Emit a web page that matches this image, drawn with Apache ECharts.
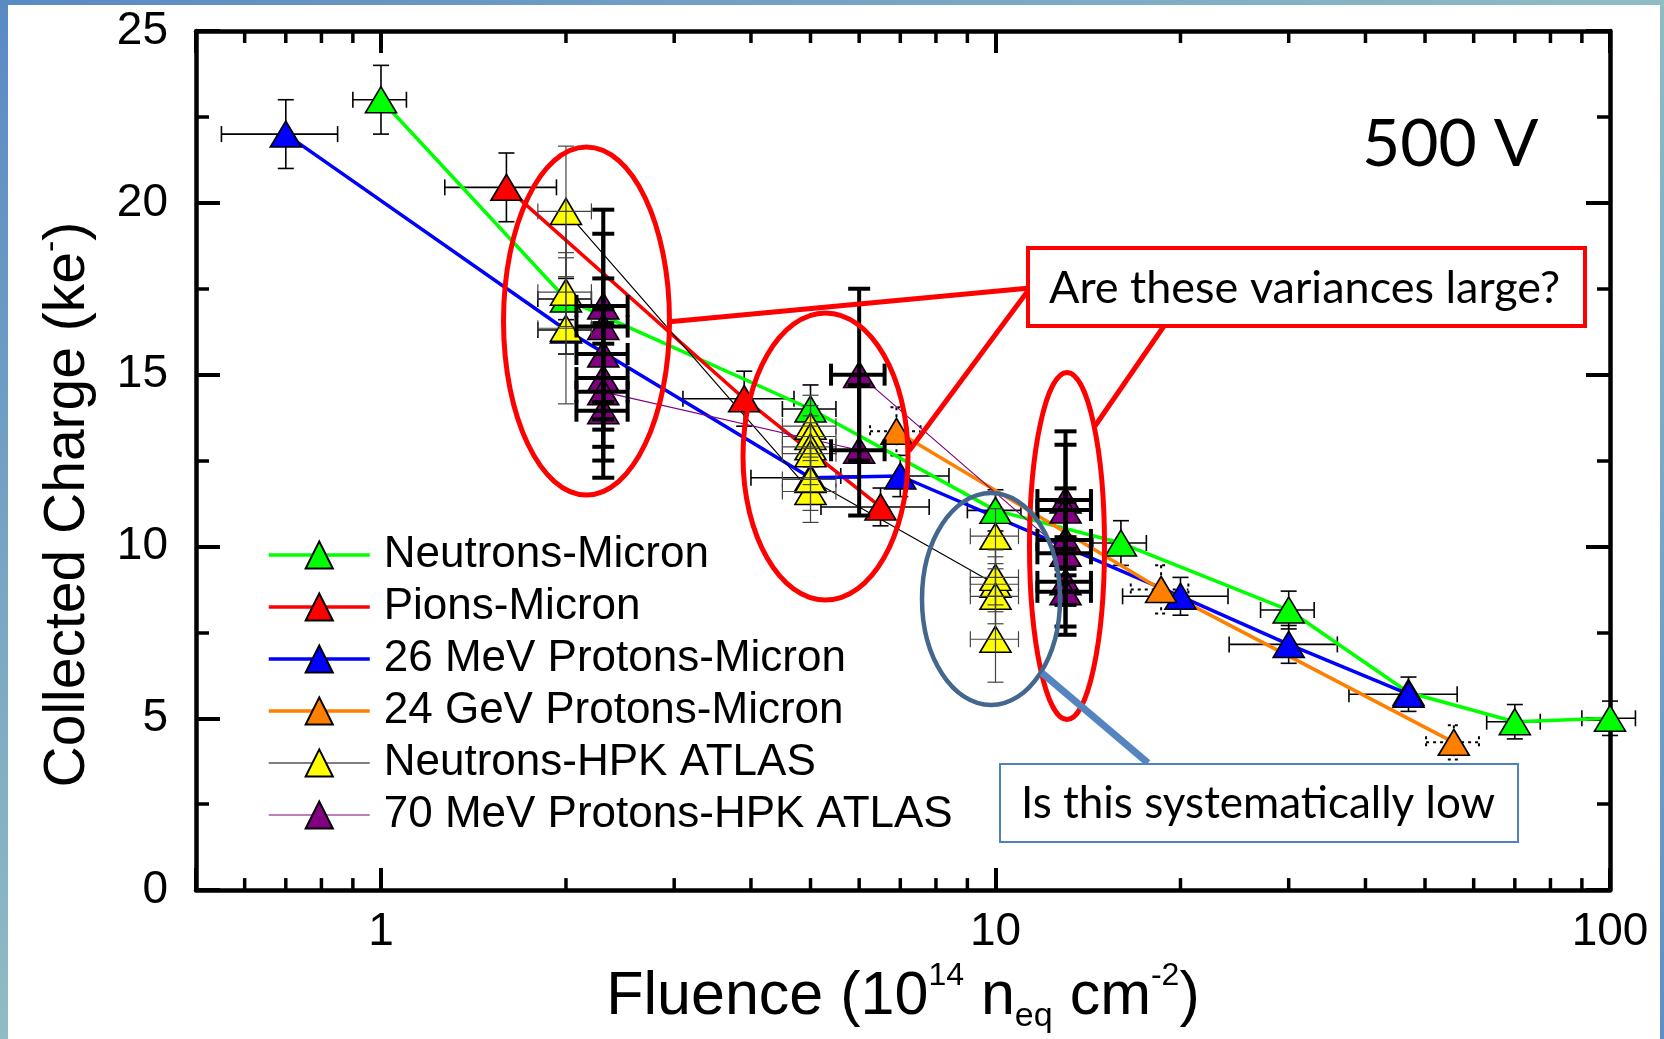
<!DOCTYPE html>
<html>
<head>
<meta charset="utf-8">
<title>Collected Charge vs Fluence, 500 V</title>
<script src="https://cdn.jsdelivr.net/npm/echarts@6.0.0/dist/echarts.min.js"></script>
<style>
  html, body { margin: 0; padding: 0; background: #ffffff; }
  .strip { position: absolute; }
  #stripTop { left: 0; top: 0; width: 1664px; height: 5px; background: linear-gradient(to right, #5a8ac4, #90bcc4); }
  #stripLeft { left: 0; top: 0; width: 8px; height: 1039px; background: linear-gradient(to bottom, #5a8ac4, #90bcc4); }
  #stripRight { left: 1660px; top: 0; width: 4px; height: 1039px; background: linear-gradient(to bottom, #90bcc4, #5f8fc6); }
  #chart { position: absolute; left: 0; top: 0; width: 1664px; height: 1039px; }
</style>
</head>
<body>
<div class="strip" id="stripTop"></div>
<div class="strip" id="stripLeft"></div>
<div class="strip" id="stripRight"></div>
<div id="chart"></div>
<script>
  // values (fluence in 1e14 neq/cm2, charge in ke-)
  const neutronMicronX = [1, 2, 5, 10, 16, 30, 47, 70, 100]
  const neutronMicronY = [23.0, 17.2, 14.0, 11.05, 10.1, 8.15, 5.75, 4.9, 5.0]
  const neutronMicronXErr = [0.1, 0.2, 0.5, 1.0, 1.6, 3, 0, 7, 10]
  const neutronMicronYErr = [1.0, 0.6, 0.7, 0.6, 0.65, 0.55, 0, 0.5, 0.5]

  const pionMicronX = [1.6, 3.9, 6.5]
  const pionMicronY = [20.45, 14.3, 11.15]
  const pionMicronXErr = [0.33, 0.8, 1.3]
  const pionMicronYErr = [1.0, 0.8, 0.55]

  const p26MicronX = [0.7, 2.0, 5.0, 7.0, 20, 30, 47]
  const p26MicronY = [22.0, 16.3, 12.0, 12.05, 8.55, 7.15, 5.7]
  const p26MicronXErr = [0.15, 0.2, 1.0, 1.4, 3.9, 6.0, 9.4]
  const p26MicronYErr = [1.0, 0.7, 0.6, 0.6, 0.55, 0.55, 0.5]

  const p24MicronX = [6.9, 18.6, 55.7]
  const p24MicronY = [13.35, 8.75, 4.3]
  const p24MicronXErr = [0.65, 2.0, 5.5]
  const p24MicronYErr = [0.7, 0.7, 0.5]

  const neutronHpkX = [2, 2, 2, 5, 5, 5, 5, 5, 5, 10, 10, 10, 10, 10]
  const neutronHpkY = [16.35, 17.4, 19.75, 11.6, 13.5, 13.2, 12.9, 12.7, 11.95, 8.9, 10.3, 9.1, 8.55, 7.3]
  const neutronHpkXErr = [0.2, 0.2, 0.2, 0.5, 0.5, 0.5, 0.5, 0.5, 0.5, 0.9, 0.9, 0.9, 0.9, 0.9]
  const neutronHpkYErr = [2.2, 1.0, 1.9, 0.9, 0.9, 0.9, 0.9, 0.9, 0.9, 0.8, 0.8, 0.8, 0.8, 1.25]

  const p70HpkX = [2.3, 2.3, 2.3, 2.3, 2.3, 2.3, 6.0, 6.0, 13, 13, 13, 13, 13, 13]
  const p70HpkY = [17.0, 16.4, 15.6, 14.9, 13.95, 14.5, 12.8, 15.0, 9.8, 11.35, 11.06, 10.19, 8.97, 8.68]
  const p70HpkXErr = [0.22, 0.22, 0.22, 0.22, 0.22, 0.22, 0.6, 0.6, 1.3, 1.3, 1.3, 1.3, 1.3, 1.3]
  const p70HpkYErr = [2.8, 2.7, 2.2, 2.0, 1.95, 2.0, 1.9, 2.5, 1.5, 2.0, 1.9, 1.5, 1.3, 1.25]

  const xMajorLabels = [1, 10, 100]
  const xMinorTicks = [0.6, 0.7, 0.8, 0.9, 2, 3, 4, 5, 6, 7, 8, 9, 20, 30, 40, 50, 60, 70, 80, 90]

  const font = 'Arial, "Liberation Sans", sans-serif'

  const groups = [
    { name: 'Neutrons-Micron', xs: neutronMicronX, ys: neutronMicronY, xe: neutronMicronXErr, ye: neutronMicronYErr,
      fill: '#00ff00', line: '#00ff00', width: 3.5, err: { stroke: '#000', lineWidth: 1.6 }, cap: 8, errZ: 1 },
    { name: 'Pions-Micron', xs: pionMicronX, ys: pionMicronY, xe: pionMicronXErr, ye: pionMicronYErr,
      fill: '#ff0000', line: '#ff0000', width: 3.5, err: { stroke: '#000', lineWidth: 1.6 }, cap: 8, errZ: 1 },
    { name: '26 MeV Protons-Micron', xs: p26MicronX, ys: p26MicronY, xe: p26MicronXErr, ye: p26MicronYErr,
      fill: '#0000ff', line: '#0000ff', width: 3.5, err: { stroke: '#000', lineWidth: 1.6 }, cap: 8, errZ: 1 },
    { name: '24 GeV Protons-Micron', xs: p24MicronX, ys: p24MicronY, xe: p24MicronXErr, ye: p24MicronYErr,
      fill: '#ff8000', line: '#ff8000', width: 3.5, err: { stroke: '#000', lineWidth: 2, lineDash: [3, 4] }, cap: 6, errZ: 1 },
    { name: 'Neutrons-HPK ATLAS', xs: neutronHpkX, ys: neutronHpkY, xe: neutronHpkXErr, ye: neutronHpkYErr,
      fill: '#ffff00', line: '#000000', width: 1.2, err: { stroke: '#444', lineWidth: 1.2 }, cap: 8, errZ: 3 },
    { name: '70 MeV Protons-HPK ATLAS', xs: p70HpkX, ys: p70HpkY, xe: p70HpkXErr, ye: p70HpkYErr,
      fill: '#800080', line: '#800080', width: 1.2, err: { stroke: '#000', lineWidth: 4 }, cap: 11, errZ: 3 },
  ]

  function errorBars(style, cap) {
    return function (params, api) {
      const x = api.value(0), y = api.value(1), xe = api.value(2), ye = api.value(3)
      if (!xe && !ye) return null
      const l = api.coord([x - xe, y]), r = api.coord([x + xe, y])
      const t = api.coord([x, y + ye]), b = api.coord([x, y - ye])
      const segs = [
        [l, r], [t, b],
        [[l[0], l[1] - cap], [l[0], l[1] + cap]], [[r[0], r[1] - cap], [r[0], r[1] + cap]],
        [[t[0] - cap, t[1]], [t[0] + cap, t[1]]], [[b[0] - cap, b[1]], [b[0] + cap, b[1]]],
      ]
      return {
        type: 'group',
        children: segs.map((s) => ({
          type: 'line',
          shape: { x1: s[0][0], y1: s[0][1], x2: s[1][0], y2: s[1][1] },
          style: style,
        })),
      }
    }
  }

  const series = []
  groups.forEach((g) => {
    series.push({
      name: g.name,
      type: 'line',
      data: g.xs.map((x, i) => [x, g.ys[i]]),
      symbol: 'triangle',
      symbolSize: [31, 26],
      itemStyle: { color: g.fill, borderColor: '#000', borderWidth: 1.6 },
      lineStyle: { color: g.line, width: g.width },
      z: 2,
    })
    series.push({
      name: g.name + ' err',
      type: 'custom',
      data: g.xs.map((x, i) => [x, g.ys[i], g.xe[i], g.ye[i]]),
      encode: { x: 0, y: 1 },
      renderItem: errorBars(g.err, g.cap),
      silent: true,
      z: g.errZ,
    })
  })

  // minor ticks of the log axis at 2..9 of each decade, bottom and top
  series.push({
    name: 'minor ticks',
    type: 'custom',
    data: xMinorTicks.map((v) => [v, 0]),
    encode: { x: 0, y: 1 },
    silent: true,
    z: 5,
    renderItem: function (params, api) {
      const v = api.value(0)
      const b = api.coord([v, 0]), t = api.coord([v, 25])
      const st = { stroke: '#000', lineWidth: 3.5 }
      return {
        type: 'group',
        children: [
          { type: 'line', shape: { x1: b[0], y1: b[1], x2: b[0], y2: b[1] - 12 }, style: st },
          { type: 'line', shape: { x1: t[0], y1: t[1], x2: t[0], y2: t[1] + 12 }, style: st },
        ],
      }
    },
  })

  const xAxisBase = {
    type: 'log',
    logBase: 10,
    min: 0.5,
    max: 100,
    axisLine: { onZero: false, lineStyle: { color: '#000', width: 4.5 } },
    axisTick: { inside: true, length: 22, lineStyle: { color: '#000', width: 4 } },
    splitLine: { show: false },
  }
  const yAxisBase = {
    type: 'value',
    min: 0,
    max: 25,
    interval: 5,
    axisLine: { show: true, onZero: false, lineStyle: { color: '#000', width: 4.5 } },
    axisTick: { inside: true, length: 24, lineStyle: { color: '#000', width: 4 } },
    minorTick: { show: true, splitNumber: 2, length: 13, lineStyle: { color: '#000', width: 3.5 } },
    splitLine: { show: false },
  }

  const chart = echarts.init(document.getElementById('chart'))
  chart.setOption({
    animation: false,
    backgroundColor: 'transparent',
    grid: { left: 196, right: 54, top: 31, bottom: 147 },
    legend: {
      data: groups.map((g) => g.name),
      orient: 'vertical',
      left: 262,
      top: 528,
      itemWidth: 101,
      itemHeight: 34,
      itemGap: 8,
      lineStyle: { width: 'inherit' },
      textStyle: { fontSize: 44, fontFamily: font, color: '#000', padding: [0, 0, 0, 9] },
    },
    xAxis: [
      Object.assign({}, xAxisBase, {
        position: 'bottom',
        axisLabel: {
          fontSize: 46,
          fontFamily: font,
          color: '#000',
          margin: 19,
          formatter: (v) => (xMajorLabels.indexOf(Math.round(v * 1000) / 1000) >= 0 ? String(Math.round(v)) : ''),
        },
        name: '{m|Fluence (10}{sup|14}{m| n}{sub|eq}{m| cm}{sup|-2}{m|)}',
        nameLocation: 'middle',
        nameGap: 53,
        nameTextStyle: {
          rich: {
            m: { fontSize: 61, lineHeight: 74, fontFamily: font, color: '#000', verticalAlign: 'middle' },
            sup: { fontSize: 32, lineHeight: 74, fontFamily: font, color: '#000', verticalAlign: 'top' },
            sub: { fontSize: 34, lineHeight: 74, fontFamily: font, color: '#000', verticalAlign: 'bottom' },
          },
        },
      }),
      Object.assign({}, xAxisBase, { position: 'top', axisLabel: { show: false } }),
    ],
    yAxis: [
      Object.assign({}, yAxisBase, {
        position: 'left',
        axisLabel: { fontSize: 46, fontFamily: font, color: '#000', margin: 28 },
        name: '{m|Collected Charge (ke}{sup|-}{m|)}',
        nameLocation: 'middle',
        nameGap: 95,
        nameTextStyle: {
          padding: [0, 88, 0, 0],
          rich: {
            m: { fontSize: 57, lineHeight: 66, fontFamily: font, color: '#000', verticalAlign: 'middle' },
            sup: { fontSize: 34, lineHeight: 66, fontFamily: font, color: '#000', verticalAlign: 'top' },
          },
        },
      }),
      Object.assign({}, yAxisBase, { position: 'right', axisLabel: { show: false } }),
    ],
    series: series,
    graphic: [
      { type: 'text', x: 1362, y: 145, z: 100,
        style: { text: '500 V', fontSize: 66, fontFamily: 'Lato', fill: '#000', verticalAlign: 'middle' } },
      // red annotation
      { type: 'ellipse', z: 100, shape: { cx: 586.5, cy: 321, rx: 83, ry: 174 }, style: { fill: 'none', stroke: '#ff0000', lineWidth: 5 } },
      { type: 'ellipse', z: 100, shape: { cx: 825.5, cy: 456.5, rx: 82.5, ry: 143.5 }, style: { fill: 'none', stroke: '#ff0000', lineWidth: 5 } },
      { type: 'ellipse', z: 100, shape: { cx: 1067, cy: 546, rx: 37.5, ry: 173.5 }, style: { fill: 'none', stroke: '#ff0000', lineWidth: 5 } },
      { type: 'line', z: 100, shape: { x1: 667, y1: 322, x2: 1030, y2: 288 }, style: { stroke: '#ff0000', lineWidth: 5 } },
      { type: 'line', z: 100, shape: { x1: 1030, y1: 288, x2: 909, y2: 451 }, style: { stroke: '#ff0000', lineWidth: 5 } },
      { type: 'line', z: 100, shape: { x1: 1164, y1: 326, x2: 1095, y2: 426 }, style: { stroke: '#ff0000', lineWidth: 5 } },
      { type: 'rect', z: 101, shape: { x: 1028, y: 248, width: 557, height: 78 }, style: { fill: '#fff', stroke: '#ff0000', lineWidth: 4 } },
      { type: 'text', z: 102, x: 1049, y: 288,
        style: { text: 'Are these variances large?', fontSize: 45, fontFamily: 'Lato', fill: '#000', verticalAlign: 'middle' } },
      // blue annotation
      { type: 'ellipse', z: 100, shape: { cx: 991, cy: 599, rx: 69, ry: 106 }, style: { fill: 'none', stroke: '#44678f', lineWidth: 4.5 } },
      { type: 'line', z: 100, shape: { x1: 1042, y1: 673, x2: 1148, y2: 763 }, style: { stroke: '#5585c0', lineWidth: 7 } },
      { type: 'rect', z: 101, shape: { x: 1000, y: 764, width: 518, height: 78 }, style: { fill: '#fff', stroke: '#4f81bd', lineWidth: 2 } },
      { type: 'text', z: 102, x: 1021, y: 804,
        style: { text: 'Is this systematically low', fontSize: 44, fontFamily: 'Lato', fill: '#000', verticalAlign: 'middle' } },
    ],
  })
  window.onresize = function () {
    chart.resize()
  }
</script>
</body>
</html>
